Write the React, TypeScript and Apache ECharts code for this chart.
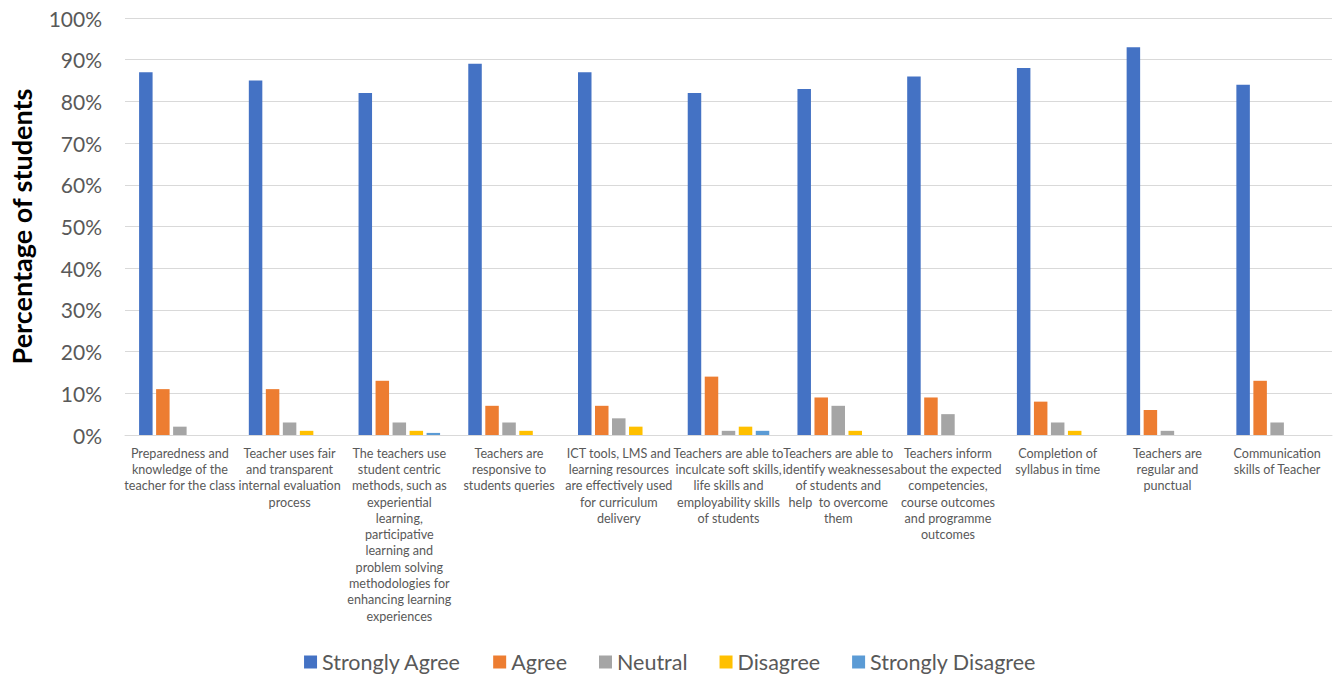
import React, { useEffect, useRef } from "react";
import * as echarts from "echarts";

const categories = [
  "Preparedness and\nknowledge of the\nteacher for the class",
  "Teacher uses fair\nand transparent\ninternal evaluation\nprocess",
  "The teachers use\nstudent centric\nmethods, such as\nexperiential\nlearning,\nparticipative\nlearning and\nproblem solving\nmethodologies for\nenhancing learning\nexperiences",
  "Teachers are\nresponsive to\nstudents queries",
  "ICT tools, LMS and\nlearning resources\nare effectively used\nfor curriculum\ndelivery",
  "Teachers are able to\ninculcate soft skills,\nlife skills and\nemployability skills\nof students",
  "Teachers are able to\nidentify weaknesses\nof students and\nhelp  to overcome\nthem",
  "Teachers inform\nabout the expected\ncompetencies,\ncourse outcomes\nand programme\noutcomes",
  "Completion of\nsyllabus in time",
  "Teachers are\nregular and\npunctual",
  "Communication\nskills of Teacher",
];

const seriesNames = ["Strongly Agree", "Agree", "Neutral", "Disagree", "Strongly Disagree"];
const stronglyAgree = [87, 85, 82, 89, 87, 82, 83, 86, 88, 93, 84];
const agree = [11, 11, 13, 7, 7, 14, 9, 9, 8, 6, 13];
const neutral = [2, 3, 3, 3, 4, 1, 7, 5, 3, 1, 3];
const disagree = [0, 1, 1, 1, 2, 2, 1, 0, 1, 0, 0];
const stronglyDisagree = [0, 0, 0.5, 0, 0, 1, 0, 0, 0, 0, 0];
const colors = ["#4472C4", "#ED7D31", "#A5A5A5", "#FFC000", "#5B9BD5"];
const yTitle = "Percentage of students";

const FONT = "Lato, 'Open Sans', sans-serif";

export default function App() {
  const ref = useRef<HTMLDivElement>(null);
  useEffect(() => {
    if (!ref.current) return;
    const chart = echarts.init(ref.current, undefined, { renderer: "svg" });
    const data = [stronglyAgree, agree, neutral, disagree, stronglyDisagree];
    chart.setOption({
      animation: false,
      textStyle: { fontFamily: FONT },
      grid: { left: 122, right: 8, top: 18, bottom: 240, containLabel: false },
      legend: {
        top: 646,
        left: "center",
        itemWidth: 13,
        itemHeight: 13,
        itemGap: 32,
        icon: "rect",
        textStyle: { fontSize: 21.5, color: "#595959", fontFamily: FONT },
        data: seriesNames,
      },
      xAxis: {
        type: "category",
        data: categories,
        axisLine: { lineStyle: { color: "#D9D9D9", width: 1 } },
        axisTick: { show: false },
        axisLabel: {
          interval: 0,
          fontSize: 12.6,
          lineHeight: 16.3,
          color: "#595959",
          margin: 10,
          fontFamily: FONT,
        },
      },
      yAxis: {
        type: "value",
        min: 0,
        max: 100,
        interval: 10,
        name: yTitle,
        nameLocation: "middle",
        nameRotate: 90,
        nameGap: 90,
        nameTextStyle: { fontSize: 27, fontWeight: "bold", color: "#000", fontFamily: FONT },
        axisLine: { show: false },
        axisTick: { show: false },
        splitLine: { lineStyle: { color: "#D9D9D9", width: 1 } },
        axisLabel: {
          formatter: "{value}%",
          fontSize: 21,
          color: "#595959",
          margin: 23,
          fontFamily: FONT,
        },
      },
      series: seriesNames.map((name, i) => ({
        name,
        type: "bar",
        data: data[i],
        barWidth: 13.5,
        barGap: "26%",
        itemStyle: { color: colors[i] },
      })),
    });
    return () => chart.dispose();
  }, []);
  return (
    <div
      ref={ref}
      style={{ position: "absolute", left: 0, top: 0, width: 1340, height: 675 }}
    />
  );
}
